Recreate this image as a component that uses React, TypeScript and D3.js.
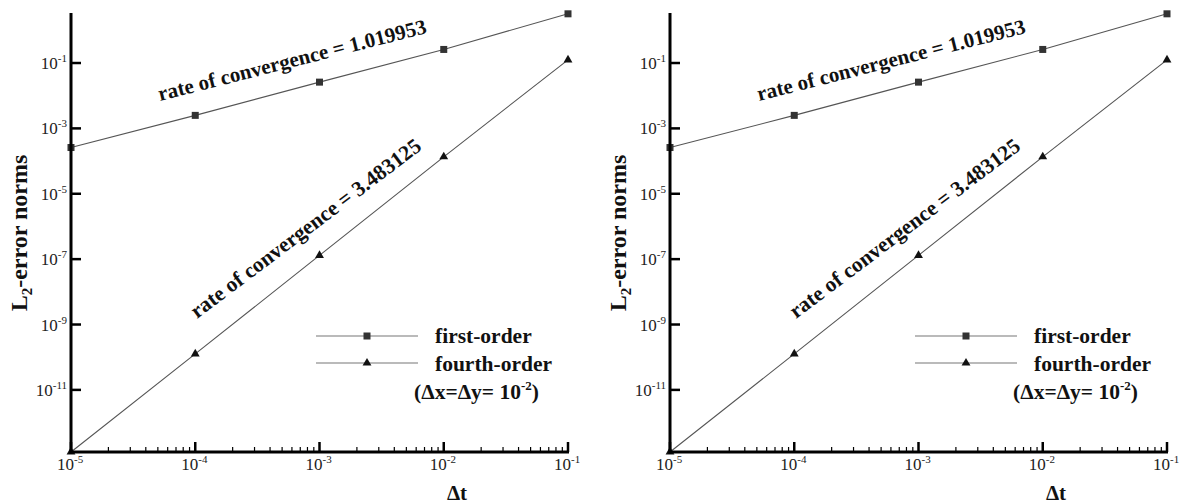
import React from "react";
import * as d3 from "d3";

// Time step sizes and L2 error norms for both schemes
const timeSteps = [1e-5, 1e-4, 1e-3, 1e-2, 1e-1];
const firstOrderErrors = [2.6e-4, 2.5e-3, 2.6e-2, 2.6e-1, 3.2];
const fourthOrderErrors = [1.26e-13, 1.26e-10, 1.3e-7, 1.35e-4, 1.25e-1];

const yTickExponents = [-1, -3, -5, -7, -9, -11];
const xTickExponents = [-5, -4, -3, -2, -1];

const firstOrderRate = "rate of convergence = 1.019953";
const fourthOrderRate = "rate of convergence = 3.483125";
const legendLabels = ["first-order", "fourth-order"];

const W = 1182;
const H = 504;
const SERIF = "'Liberation Serif', 'Times New Roman', serif";

// Panel layout
const AXIS_LEFT = 71;
const AXIS_RIGHT = 568;
const Y_TOP = 13;
const Y_BOTTOM = 452;

function Panel({ dx }: { dx: number }) {
  const x = d3.scaleLog().domain([1e-5, 1e-1]).range([AXIS_LEFT, AXIS_RIGHT]);
  const y = d3
    .scaleLog()
    .domain([Math.pow(10, -12.9), Math.pow(10, 0.53)])
    .range([Y_BOTTOM, Y_TOP]);

  const line = d3
    .line<number>()
    .x((_, i) => x(timeSteps[i]))
    .y((d) => y(d));

  const minorTicks: number[] = [];
  for (let e = -5; e < -1; e++) {
    for (let m = 2; m <= 9; m++) minorTicks.push(m * Math.pow(10, e));
  }

  const tri = d3.symbol().type(d3.symbolTriangle).size(34)() as string;

  return (
    <g transform={`translate(${dx},0)`}>
      {/* data lines */}
      <path d={line(firstOrderErrors) || ""} fill="none" stroke="#555" strokeWidth={1.1} />
      <path d={line(fourthOrderErrors) || ""} fill="none" stroke="#555" strokeWidth={1.1} />
      {firstOrderErrors.map((v, i) => (
        <rect
          key={"s" + i}
          x={x(timeSteps[i]) - 3.5}
          y={y(v) - 3.5}
          width={7}
          height={7}
          fill="#333"
        />
      ))}
      {fourthOrderErrors.map((v, i) => (
        <path
          key={"t" + i}
          d={tri}
          transform={`translate(${x(timeSteps[i])},${y(v)})`}
          fill="#111"
        />
      ))}

      {/* axes */}
      <line x1={AXIS_LEFT} x2={AXIS_LEFT} y1={Y_TOP} y2={Y_BOTTOM + 1.5} stroke="#000" strokeWidth={3} />
      <line x1={AXIS_LEFT - 1.5} x2={AXIS_RIGHT + 1} y1={Y_BOTTOM} y2={Y_BOTTOM} stroke="#000" strokeWidth={3} />

      {yTickExponents.map((e) => {
        const ty = y(Math.pow(10, e));
        return (
          <g key={"y" + e}>
            <line x1={AXIS_LEFT} x2={AXIS_LEFT + 10} y1={ty} y2={ty} stroke="#000" strokeWidth={2.5} />
            <text
              x={AXIS_LEFT - 4}
              y={ty + 6}
              textAnchor="end"
              fontFamily={SERIF}
              fontSize={17}
              fill="#222"
            >
              10
              <tspan dy={-7} fontSize={11}>
                {"-" + Math.abs(e)}
              </tspan>
            </text>
          </g>
        );
      })}

      {minorTicks.map((v, i) => (
        <line
          key={"m" + i}
          x1={x(v)}
          x2={x(v)}
          y1={Y_BOTTOM}
          y2={Y_BOTTOM - 5}
          stroke="#000"
          strokeWidth={1.2}
        />
      ))}
      {xTickExponents.map((e) => {
        const tx = x(Math.pow(10, e));
        return (
          <g key={"x" + e}>
            <line x1={tx} x2={tx} y1={Y_BOTTOM} y2={Y_BOTTOM - 10} stroke="#000" strokeWidth={2.5} />
            <text x={tx - 14} y={470} fontFamily={SERIF} fontSize={17} fill="#222">
              10
              <tspan dy={-7} fontSize={11}>
                {"-" + Math.abs(e)}
              </tspan>
            </text>
          </g>
        );
      })}

      {/* axis titles */}
      <text
        transform={`translate(27,233) rotate(-90)`}
        textAnchor="middle"
        fontFamily={SERIF}
        fontWeight="bold"
        fontSize={24}
        fill="#111"
      >
        L<tspan dy={5} fontSize={15}>2</tspan>
        <tspan dy={-5}>-error norms</tspan>
      </text>
      <text x={457} y={500} textAnchor="middle" fontFamily={SERIF} fontWeight="bold" fontSize={21} fill="#111">
        Δt
      </text>

      {/* convergence rate annotations */}
      <text
        transform={`translate(160,101) rotate(-14.3)`}
        fontFamily={SERIF}
        fontWeight="bold"
        fontSize={21}
        fill="#111"
      >
        {firstOrderRate}
      </text>
      <text
        transform={`translate(197,319) rotate(-37)`}
        fontFamily={SERIF}
        fontWeight="bold"
        fontSize={21.5}
        fill="#111"
      >
        {fourthOrderRate}
      </text>

      {/* legend */}
      <line x1={316} x2={418} y1={336} y2={336} stroke="#777" strokeWidth={1.1} />
      <rect x={367 - 3.5} y={336 - 3.5} width={7} height={7} fill="#333" />
      <line x1={316} x2={418} y1={363} y2={363} stroke="#777" strokeWidth={1.1} />
      <path d={tri} transform={`translate(367,363)`} fill="#111" />
      <text x={435} y={343} fontFamily={SERIF} fontWeight="bold" fontSize={21.5} fill="#111">
        {legendLabels[0]}
      </text>
      <text x={435} y={371} fontFamily={SERIF} fontWeight="bold" fontSize={21.5} fill="#111">
        {legendLabels[1]}
      </text>
      <text x={414} y={399} fontFamily={SERIF} fontWeight="bold" fontSize={21.5} fill="#111">
        (Δx=Δy= 10<tspan dy={-9} fontSize={13}>-2</tspan>
        <tspan dy={9}>)</tspan>
      </text>
    </g>
  );
}

export default function App() {
  return (
    <svg
      width={W}
      height={H}
      viewBox={`0 0 ${W} ${H}`}
      style={{ position: "absolute", left: 0, top: 0, background: "#fff" }}
    >
      <rect width={W} height={H} fill="#fff" />
      <Panel dx={0} />
      <Panel dx={599} />
    </svg>
  );
}
